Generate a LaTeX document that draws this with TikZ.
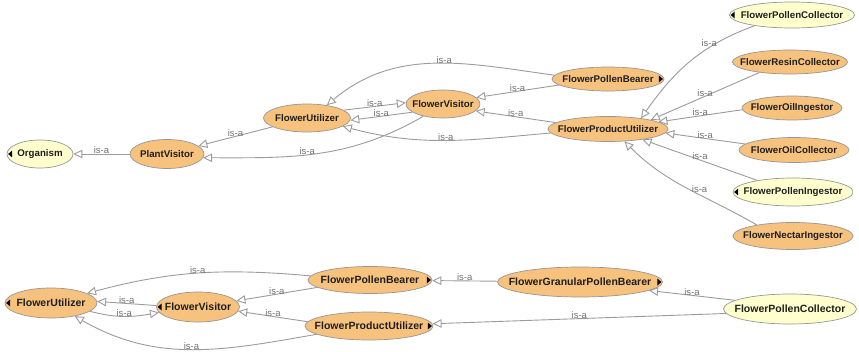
\documentclass[tikz,border=0pt]{standalone}
\usepackage{fontspec}
\setmainfont{Liberation Sans}
\usetikzlibrary{shapes.geometric,arrows.meta}
\definecolor{ogorange}{RGB}{247,194,125}
\definecolor{ogyellow}{RGB}{255,255,206}
\definecolor{ogline}{RGB}{155,155,155}
\definecolor{ogrim}{RGB}{150,150,150}
\definecolor{ogtext}{RGB}{30,30,30}
\definecolor{oglabel}{RGB}{115,115,115}
\newcommand{\cname}[1]{\makebox[0pt]{#1}}
\newcommand{\tipl}[1]{\fill[black] ([xshift=1.5pt]#1.west) -- ++(4,3.5) -- ++(0,-7) -- cycle;}
\newcommand{\tipr}[1]{\fill[black] ([xshift=-1.5pt]#1.east) -- ++(-4,3.5) -- ++(0,-7) -- cycle;}

\begin{document}
\begin{tikzpicture}[x=1pt,y=1pt,
  every node/.style={text=ogtext},
  cls/.style={ellipse,draw=ogrim,fill=ogorange,line width=0.7pt,inner sep=0pt,font=\fontsize{9.7}{11}\selectfont\bfseries},
  ext/.style={cls,fill=ogyellow},
  big/.style={font=\fontsize{10.5}{12}\selectfont\bfseries},
  isa/.style={draw=ogline,line width=0.9pt,-{Triangle[open,length=9pt,width=8.5pt]}},
  lbl/.style={above=-1pt,font=\fontsize{9.5}{10}\selectfont,text=oglabel,inner sep=0.5pt}]
\useasboundingbox (0,0) rectangle (859,351);

% upper graph
\node[ext,minimum width=66pt,minimum height=28pt] (org) at (40,197) {\cname{Organism}};
\node[cls,minimum width=74pt,minimum height=29pt] (pv) at (167,197) {\cname{PlantVisitor}};
\node[cls,minimum width=87pt,minimum height=28pt] (fu) at (307,233) {\cname{FlowerUtilizer}};
\node[cls,minimum width=74pt,minimum height=28pt] (fv) at (443,247) {\cname{FlowerVisitor}};
\node[cls,minimum width=112pt,minimum height=24pt] (fpb) at (608,272) {\cname{FlowerPollenBearer}};
\node[cls,minimum width=120pt,minimum height=25pt] (fpu) at (608,222) {\cname{FlowerProductUtilizer}};
\node[ext,minimum width=125pt,minimum height=26pt] (fpc) at (792,336) {\cname{FlowerPollenCollector}};
\node[cls,minimum width=115pt,minimum height=24pt] (frc) at (790,289) {\cname{FlowerResinCollector}};
\node[cls,minimum width=100pt,minimum height=24pt] (foi) at (792,243) {\cname{FlowerOilIngestor}};
\node[cls,minimum width=110pt,minimum height=25pt] (foc) at (794,201) {\cname{FlowerOilCollector}};
\node[ext,minimum width=120pt,minimum height=28pt] (fpi) at (793,159) {\cname{FlowerPollenIngestor}};
\node[cls,minimum width=120pt,minimum height=27pt] (fni) at (793,115) {\cname{FlowerNectarIngestor}};

\draw[isa] (pv) -- node[lbl]{is-a} (org);
\draw[isa] (fu) -- node[lbl]{is-a} (pv);
\draw[isa] (fv.212) to[out=210,in=0] node[lbl,pos=.55]{is-a} (pv.-6);
\draw[isa] (fu.12) -- node[lbl]{is-a} (fv.178);
\draw[isa] (fv.195) -- node[lbl]{is-a} (fu.-3);
\draw[isa] (fpb.176) to[out=172,in=40] node[lbl,pos=.45]{is-a} (fu.33);
\draw[isa] (fpb.187) -- node[lbl]{is-a} (fv.11);
\draw[isa] (fpu.173) -- node[lbl]{is-a} (fv.-12);
\draw[isa] (fpu.184) to[out=185,in=-15] node[lbl]{is-a} (fu.-13);

% right fan
\draw[isa] (fpc.196) to[out=200,in=55] node[lbl,pos=.25,left=1pt]{is-a} (fpu.18);
\draw[isa] (frc.199) -- node[lbl]{is-a} (fpu.12);
\draw[isa] (foi.182) -- node[lbl]{is-a} (fpu.8);
\draw[isa] (foc.173) -- node[lbl]{is-a} (fpu.-4);
\draw[isa] (fpi.162) -- node[lbl]{is-a} (fpu.-17);
\draw[isa] (fni.163) to[out=150,in=-45] node[lbl,pos=.5,right=4pt]{is-a} (fpu.-37);

% lower graph
\node[cls,big,minimum width=92pt,minimum height=30pt] (bfu) at (51,48) {\cname{FlowerUtilizer}};
\node[cls,big,minimum width=83pt,minimum height=30pt] (bfv) at (198,44) {\cname{FlowerVisitor}};
\node[cls,big,minimum width=124pt,minimum height=27pt] (bfpb) at (370,71) {\cname{FlowerPollenBearer}};
\node[cls,big,minimum width=128pt,minimum height=28pt] (bfpu) at (369,25) {\cname{FlowerProductUtilizer}};
\node[cls,big,minimum width=165pt,minimum height=30pt] (bfgpb) at (580,69) {\cname{FlowerGranularPollenBearer}};
\node[ext,big,minimum width=133pt,minimum height=30pt] (bfpc) at (790,42) {\cname{FlowerPollenCollector}};

\draw[isa] (bfpb.176) to[out=175,in=15] node[lbl]{is-a} (bfu.15);
\draw[isa] (bfv.178) -- node[lbl]{is-a} (bfu.2);
\draw[isa] (bfu.-12) to[out=-15,in=190] node[lbl]{is-a} (bfv.188);
\draw[isa] (bfpb.188) -- node[lbl]{is-a} (bfv.9);
\draw[isa] (bfpu.176) -- node[lbl]{is-a} (bfv.-6);
\draw[isa] (bfpu.189) to[out=190,in=-30] node[lbl]{is-a} (bfu.-29);
\draw[isa] (bfgpb) -- node[lbl]{is-a} (bfpb);
\draw[isa] (bfpc.171) -- node[lbl]{is-a} (bfgpb.-7);
\draw[isa] (bfpc.184) -- node[lbl]{is-a} (bfpu);

% expand markers
\tipl{org} \tipr{fpb} \tipl{fpc} \tipl{fpi}
\tipl{bfu} \tipl{bfv} \tipr{bfpb} \tipr{bfpu} \tipr{bfgpb}
\end{tikzpicture}
\end{document}
